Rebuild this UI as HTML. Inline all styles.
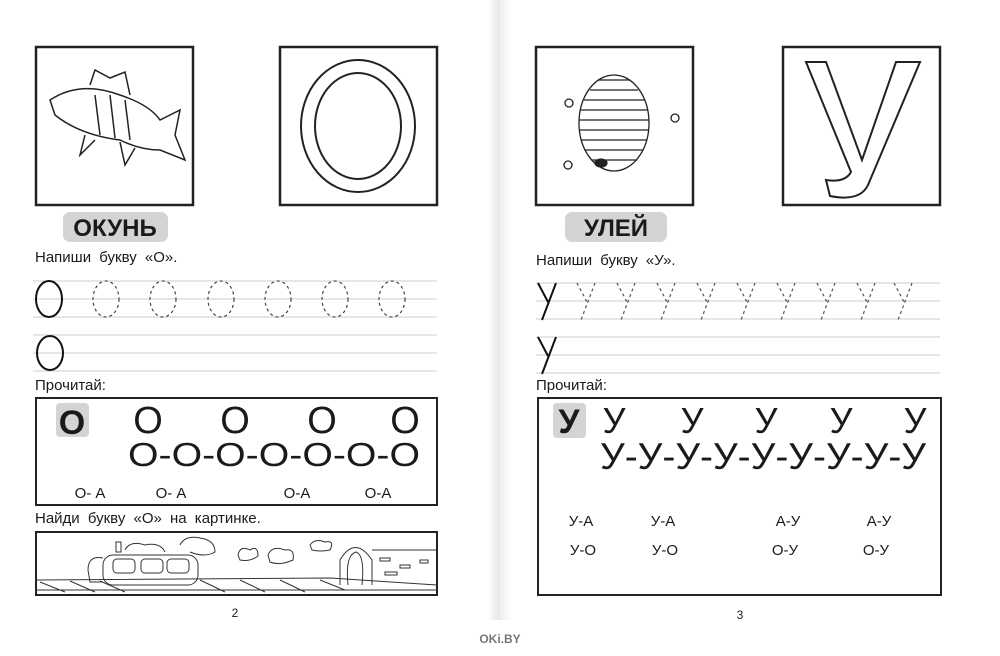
<!DOCTYPE html>
<html><head><meta charset="utf-8"><style>
html,body{margin:0;padding:0;background:#fff;width:1000px;height:656px;overflow:hidden}
svg{display:block}
text{font-family:"Liberation Sans","DejaVu Sans",sans-serif;fill:#1a1a1a}
</style></head><body>
<svg width="1000" height="656" viewBox="0 0 1000 656">
<defs>
<linearGradient id="g" x1="0" x2="1"><stop offset="0" stop-color="#fff"/><stop offset="0.45" stop-color="#e8e8e8"/><stop offset="0.55" stop-color="#efefef"/><stop offset="1" stop-color="#fff"/></linearGradient>
</defs>
<rect x="488" y="0" width="24" height="620" fill="url(#g)"/>
<!-- LEFT PAGE -->
<rect x="36" y="47" width="157" height="158" fill="none" stroke="#222" stroke-width="2.5"/>
<g fill="none" stroke="#222" stroke-width="1.5">
<path d="M50 100 Q80 80 120 95 Q150 105 160 120 L180 110 L175 135 L185 160 L160 150 Q140 150 120 140 Q80 135 55 115 Z"/>
<path d="M90 85 L95 70 L110 78 L125 72 L130 95"/>
<path d="M85 135 L80 155 L95 140"/><path d="M120 142 L125 165 L135 148"/>
<path d="M95 95 L100 135 M110 95 L115 138 M125 100 L130 140"/>
</g>
<rect x="280" y="47" width="157" height="158" fill="none" stroke="#222" stroke-width="2.5"/>
<ellipse cx="358" cy="126" rx="57" ry="66" fill="none" stroke="#222" stroke-width="2"/>
<ellipse cx="358" cy="126" rx="43" ry="53" fill="none" stroke="#222" stroke-width="2"/>
<rect x="63" y="212" width="105" height="30" rx="7" fill="#d4d4d4"/>
<text x="115" y="236" text-anchor="middle" font-size="24" font-weight="bold">ОКУНЬ</text>
<text x="35" y="262" font-size="15" word-spacing="4">Напиши букву «О».</text>
<g stroke="#ccc" stroke-width="1">
<line x1="33" y1="281" x2="437" y2="281"/><line x1="33" y1="299" x2="437" y2="299"/><line x1="33" y1="317" x2="437" y2="317"/>
<line x1="33" y1="335" x2="437" y2="335"/><line x1="33" y1="353" x2="437" y2="353"/><line x1="33" y1="371" x2="437" y2="371"/>
</g>
<ellipse cx="49" cy="299" rx="13" ry="18" fill="none" stroke="#111" stroke-width="2"/>
<g fill="none" stroke="#444" stroke-width="1.2" stroke-dasharray="3,3">
<ellipse cx="106" cy="299" rx="13" ry="18"/><ellipse cx="163" cy="299" rx="13" ry="18"/><ellipse cx="221" cy="299" rx="13" ry="18"/>
<ellipse cx="278" cy="299" rx="13" ry="18"/><ellipse cx="335" cy="299" rx="13" ry="18"/><ellipse cx="392" cy="299" rx="13" ry="18"/>
</g>
<ellipse cx="50" cy="353" rx="13" ry="17" fill="none" stroke="#111" stroke-width="2"/>
<text x="35" y="390" font-size="15">Прочитай:</text>
<rect x="36" y="398" width="401" height="107" fill="none" stroke="#222" stroke-width="2"/>
<rect x="56" y="403" width="33" height="34" rx="4" fill="#d4d4d4"/>
<text x="72" y="434" text-anchor="middle" font-size="34" font-weight="bold">О</text>
<g font-size="38" text-anchor="middle"><text x="148" y="433">О</text><text x="235" y="433">О</text><text x="322" y="433">О</text><text x="405" y="433">О</text></g>
<text x="128" y="466" font-size="33" textLength="292" lengthAdjust="spacingAndGlyphs">О-О-О-О-О-О-О</text>
<g font-size="15" text-anchor="middle"><text x="90" y="498">О- А</text><text x="171" y="498">О- А</text><text x="297" y="498">О-А</text><text x="378" y="498">О-А</text></g>
<text x="35" y="523" font-size="15" word-spacing="4">Найди букву «О» на картинке.</text>
<rect x="36" y="532" width="401" height="63" fill="none" stroke="#222" stroke-width="2"/>
<g fill="none" stroke="#333" stroke-width="1">
<path d="M36 580 L330 578 L437 585" /><path d="M36 590 L437 590"/>
<path d="M40 582 L65 592 M70 581 L95 592 M100 581 L125 592 M200 580 L225 592 M240 580 L265 592 M280 580 L305 592 M320 580 L345 590"/>
<rect x="103" y="555" width="95" height="30" rx="10"/><rect x="113" y="559" width="22" height="14" rx="4"/><rect x="141" y="559" width="22" height="14" rx="4"/><rect x="167" y="559" width="22" height="14" rx="4"/>
<path d="M103 558 Q88 555 88 570 L90 582 L103 582"/><rect x="116" y="542" width="5" height="10"/>
<path d="M125 550 Q130 540 145 545 Q160 542 165 552 M180 545 Q185 535 200 538 Q215 540 215 552 Q205 558 190 552"/>
<path d="M238 555 Q240 545 250 550 Q258 545 258 556 Q250 562 240 560 Z M268 555 Q272 545 285 550 Q295 548 293 560 Q280 566 270 562 Z M310 545 Q315 538 325 542 Q335 540 330 550 Q320 552 312 550 Z"/>
<path d="M340 585 L340 560 Q355 535 372 560 L372 585 M348 585 Q345 555 356 552 Q365 555 362 585 M372 550 L437 550"/>
<rect x="380" y="558" width="10" height="3"/><rect x="400" y="565" width="10" height="3"/><rect x="420" y="560" width="8" height="3"/><rect x="385" y="572" width="12" height="3"/>
</g>
<text x="235" y="617" font-size="12" text-anchor="middle">2</text>
<!-- RIGHT PAGE -->
<rect x="536" y="47" width="157" height="158" fill="none" stroke="#222" stroke-width="2.5"/>
<g fill="none" stroke="#222" stroke-width="1.3">
<ellipse cx="614" cy="123" rx="35" ry="48"/>
<path d="M584 100 L644 100 M580 110 L648 110 M579 120 L649 120 M579 130 L649 130 M581 140 L647 140 M585 150 L643 150 M591 160 L637 160 M590 90 L638 90 M598 80 L630 80"/>
<ellipse cx="601" cy="163" rx="6" ry="4" fill="#222"/>
<circle cx="569" cy="103" r="4"/><circle cx="675" cy="118" r="4"/><circle cx="568" cy="165" r="4"/>
</g>
<rect x="783" y="47" width="157" height="158" fill="none" stroke="#222" stroke-width="2.5"/>
<path d="M806 62 L826 62 L862 160 L896 62 L920 62 L868 185 Q860 202 830 196 L826 180 Q845 183 851 172 Z" fill="none" stroke="#222" stroke-width="2"/>
<rect x="565" y="212" width="102" height="30" rx="7" fill="#d4d4d4"/>
<text x="616" y="236" text-anchor="middle" font-size="24" font-weight="bold">УЛЕЙ</text>
<text x="536" y="265" font-size="15" word-spacing="4">Напиши букву «У».</text>
<g stroke="#ccc" stroke-width="1">
<line x1="536" y1="283" x2="940" y2="283"/><line x1="536" y1="301" x2="940" y2="301"/><line x1="536" y1="319" x2="940" y2="319"/>
<line x1="536" y1="337" x2="940" y2="337"/><line x1="536" y1="355" x2="940" y2="355"/><line x1="536" y1="373" x2="940" y2="373"/>
</g>
<path d="M538 283 L548 302 M556 283 L542 320" fill="none" stroke="#111" stroke-width="2"/>
<g fill="none" stroke="#555" stroke-width="1.2" stroke-dasharray="3,3">
<path d="M577 283 L587 302 M595 283 L581 320"/><path d="M617 283 L627 302 M635 283 L621 320"/><path d="M657 283 L667 302 M675 283 L661 320"/>
<path d="M697 283 L707 302 M715 283 L701 320"/><path d="M737 283 L747 302 M755 283 L741 320"/><path d="M777 283 L787 302 M795 283 L781 320"/>
<path d="M817 283 L827 302 M835 283 L821 320"/><path d="M857 283 L867 302 M875 283 L861 320"/><path d="M894 283 L904 302 M912 283 L898 320"/>
</g>
<path d="M538 337 L548 356 M556 337 L542 374" fill="none" stroke="#111" stroke-width="2"/>
<text x="536" y="390" font-size="15">Прочитай:</text>
<rect x="538" y="398" width="403" height="197" fill="none" stroke="#222" stroke-width="2"/>
<rect x="553" y="403" width="33" height="35" rx="4" fill="#d4d4d4"/>
<text x="569" y="433" text-anchor="middle" font-size="34" font-weight="bold">У</text>
<g font-size="36" text-anchor="middle"><text x="614" y="433">У</text><text x="692" y="433">У</text><text x="766" y="433">У</text><text x="841" y="433">У</text><text x="915" y="433">У</text></g>
<text x="600" y="469" font-size="37" textLength="326" lengthAdjust="spacingAndGlyphs">У-У-У-У-У-У-У-У-У</text>
<g font-size="15" text-anchor="middle"><text x="581" y="526">У-А</text><text x="663" y="526">У-А</text><text x="788" y="526">А-У</text><text x="879" y="526">А-У</text>
<text x="583" y="555">У-О</text><text x="665" y="555">У-О</text><text x="785" y="555">О-У</text><text x="876" y="555">О-У</text></g>
<text x="740" y="619" font-size="12" text-anchor="middle">3</text>
<text x="500" y="643" font-size="12" text-anchor="middle" style="fill:#777" font-weight="bold">OKi.BY</text>
</svg>
</body></html>
